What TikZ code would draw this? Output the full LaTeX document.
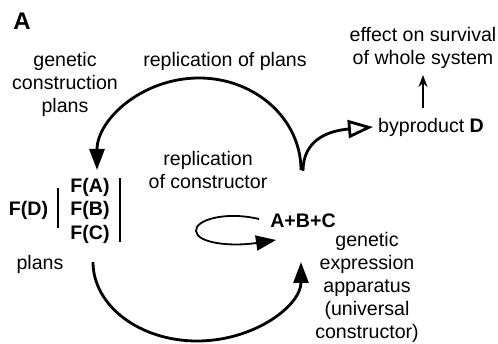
\documentclass[tikz,border=0pt]{standalone}
\usepackage{fontspec}
\setmainfont{Liberation Sans}
\usetikzlibrary{arrows.meta}
\begin{document}
\begin{tikzpicture}[x=1pt,y=-1pt,
  txt/.style={font=\fontsize{19.6}{23}\selectfont, inner sep=0pt, align=center},
  bld/.style={font=\fontsize{19.6}{23}\selectfont\bfseries, inner sep=0pt, align=center},
  bigarc/.style={line width=2.8pt, -{Triangle[length=21pt,width=15pt]}},
  openarc/.style={line width=2.8pt, -{Triangle[open,length=25pt,width=18pt,line width=2.8pt]}},
  thinarr/.style={line width=1.8pt, -{Stealth[length=12pt,width=9pt]}},
  looparr/.style={line width=1.8pt, -{Triangle[length=20pt,width=15pt]}},
  bar/.style={line width=2pt}]
\useasboundingbox (0,0) rectangle (498,344);

\node[bld, font=\fontsize{24}{28}\selectfont\bfseries, anchor=base] (lbl) at (22,30) {A};
\node[txt] (gcp) at (65,84) {genetic\\construction\\plans};
\node[txt, anchor=base] (rop) at (225,67) {replication of plans};
\node[txt] (eff) at (423,48) {effect on survival\\of whole system};
\node[txt, anchor=base west] (bp) at (378,133) {byproduct \textbf{D}};
\node[txt] (roc) at (208,170) {replication\\of constructor};
\node[bld, anchor=base] (fa) at (90,193) {F(A)};
\node[bld, anchor=base] (fb) at (90,216) {F(B)};
\node[bld, anchor=base] (fc) at (90,240) {F(C)};
\node[bld, anchor=base] (fd) at (28.5,216) {F(D)};
\node[txt, anchor=base] (pl) at (40,270) {plans};
\node[bld, anchor=base] (abc) at (303,228) {A+B+C};
\node[txt] (gea) at (367,287) {genetic\\expression\\apparatus\\(universal\\constructor)};

% bars
\coordinate (b1t) at (58,188); \coordinate (b1b) at (58,228);
\coordinate (b2t) at (120,178); \coordinate (b2b) at (120,242);
\draw[bar] (b1t) -- (b1b);
\draw[bar] (b2t) -- (b2b);

% top arc: from constructor region to plans
\coordinate (ta) at (301,170);
\draw[bigarc] (ta) arc[start angle=0, end angle=-180, x radius=102, y radius=92];

% bottom arc: from plans to apparatus
\coordinate (ba) at (93,262);
\draw[bigarc] (ba) arc[start angle=180, end angle=0, x radius=104, y radius=79];

% byproduct
\coordinate (bs) at (303,171);
\coordinate (bt) at (373,127);
\draw[openarc] (bs) .. controls (303,142) and (325,131) .. (bt);

% effect arrow
\coordinate (es) at (423,108);
\coordinate (et) at (423,75);
\draw[thinarr] (es) -- (et);

% loop
\coordinate (ls) at (259,219);
\coordinate (lt) at (276,240);
\draw[looparr] (ls) .. controls (225,211) and (195,220) .. (196,231)
  .. controls (197,243) and (230,247) .. (lt);
\end{tikzpicture}
\end{document}
